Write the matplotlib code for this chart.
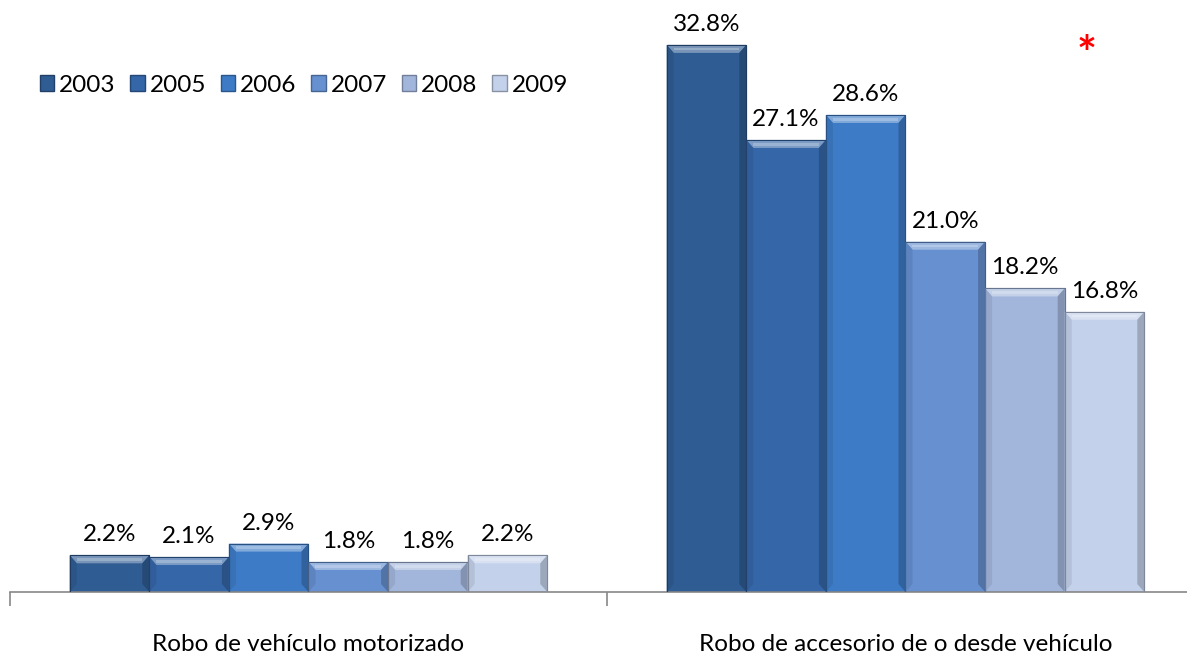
import numpy as np
import matplotlib.pyplot as plt
from matplotlib.patches import Patch, Polygon

# datos
categorias = ['Robo de vehículo motorizado', 'Robo de accesorio de o desde vehículo']
anios = ['2003', '2005', '2006', '2007', '2008', '2009']
valores = {
    '2003': [2.2, 32.8],
    '2005': [2.1, 27.1],
    '2006': [2.9, 28.6],
    '2007': [1.8, 21.0],
    '2008': [1.8, 18.2],
    '2009': [2.2, 16.8],
}
colores = ['#2f5c93', '#3566a8', '#3d7bc6', '#6690d0', '#a2b6dc', '#c3d1ea']

plt.rcParams['font.family'] = ['Lato', 'DejaVu Sans']

W, H = 1187, 654
fig = plt.figure(figsize=(W / 100, H / 100), dpi=100)
base_y = 592
px_pct = 16.68
ymax = 35
ax = fig.add_axes([10 / W, (H - base_y) / H, 1194 / W, ymax * px_pct / H])
ax.set_xlim(-0.5, 1.5)
ax.set_ylim(0, ymax)

x = np.arange(len(categorias))
n = len(anios)
ancho = 0.8 / n
dx = 1.0 / 597   # unidades x por pixel
dy = 1.0 / px_pct  # unidades y por pixel


def mezcla(c, otro, t):
    c = np.array(plt.matplotlib.colors.to_rgb(c))
    o = np.array(plt.matplotlib.colors.to_rgb(otro))
    return tuple(c * (1 - t) + o * t)


for i, anio in enumerate(anios):
    pos = x - 0.4 + ancho * (i + 0.5)
    barras = ax.bar(pos, valores[anio], width=ancho, color=colores[i],
                    edgecolor=mezcla(colores[i], 'black', 0.35), linewidth=0.8, zorder=2)
    for b, v in zip(barras, valores[anio]):
        x0, x1 = b.get_x(), b.get_x() + b.get_width()
        top = b.get_height()
        bx, by = 7 * dx, 8 * dy
        # bisel superior claro
        ax.add_patch(Polygon([(x0, top), (x1, top), (x1 - bx, top - by), (x0 + bx, top - by)],
                             closed=True, facecolor=mezcla(colores[i], 'white', 0.35),
                             edgecolor='none', zorder=3))
        ax.add_patch(Polygon([(x0 + bx, top - by * 0.35), (x1 - bx, top - by * 0.35),
                              (x1 - bx, top - by * 0.7), (x0 + bx, top - by * 0.7)],
                             closed=True, facecolor=mezcla(colores[i], 'white', 0.5),
                             edgecolor='none', zorder=3))
        # biseles laterales
        ax.add_patch(Polygon([(x0, top), (x0 + bx, top - by), (x0 + bx, by), (x0, 0)],
                             closed=True, facecolor=mezcla(colores[i], 'black', 0.08),
                             edgecolor='none', zorder=3))
        ax.add_patch(Polygon([(x1, top), (x1 - bx, top - by), (x1 - bx, by), (x1, 0)],
                             closed=True, facecolor=mezcla(colores[i], 'black', 0.2),
                             edgecolor='none', zorder=3))
        ax.add_patch(Polygon([(x0, top), (x1, top), (x1, 0), (x0, 0)], closed=True,
                             facecolor='none', edgecolor=mezcla(colores[i], 'black', 0.35),
                             linewidth=0.8, zorder=4))
        ax.text(b.get_x() + b.get_width() / 2, top + 10 * dy, f'{v:.1f}%',
                ha='center', va='bottom', fontsize=17.5, color='black', zorder=5)

# ejes
for s in ['top', 'right', 'left']:
    ax.spines[s].set_visible(False)
ax.spines['bottom'].set_color('#888888')
ax.spines['bottom'].set_linewidth(1.2)
ax.set_yticks([])
ax.set_xticks([-0.5, 0.5, 1.5])
ax.set_xticklabels([])
ax.tick_params(axis='x', length=10, width=1.2, color='#888888', direction='out')
ax.set_xticks(x, minor=True)
ax.set_xticklabels(categorias, minor=True, fontsize=17.5)
ax.tick_params(axis='x', which='minor', length=0, pad=30)

# leyenda
handles = [Patch(facecolor=c, edgecolor=mezcla(c, 'black', 0.3)) for c in colores]
fig.legend(handles, anios, loc='center left', bbox_to_anchor=(30 / W, 1 - 85 / H),
           ncol=6, frameon=False, fontsize=17.5, handlelength=0.6, handleheight=0.6,
           handletextpad=0.2, columnspacing=0.6, borderaxespad=0)

fig.text(1087 / W, 1 - 56 / H, '*', color='red', fontsize=34, ha='center', va='center',
         fontweight='bold')

fig.savefig('out.png', dpi=100)
